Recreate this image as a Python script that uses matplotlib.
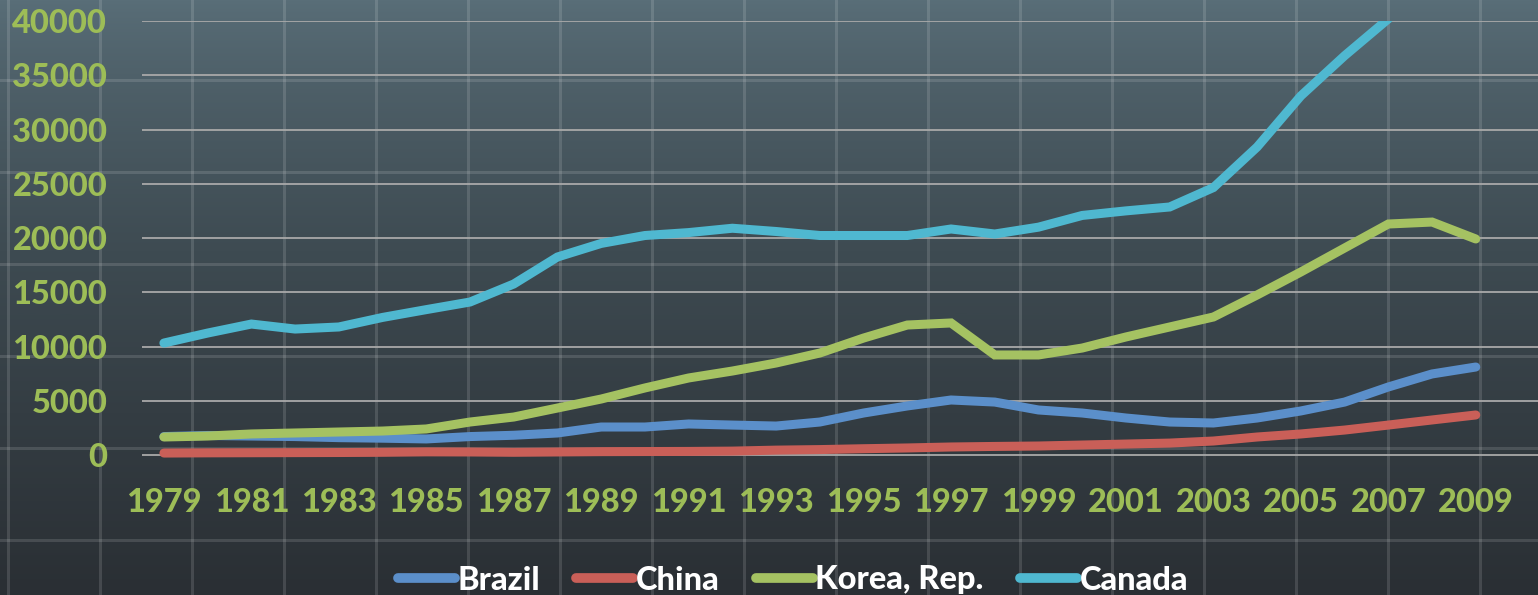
import numpy as np
import matplotlib
matplotlib.use("Agg")
import matplotlib.pyplot as plt
from matplotlib.colors import LinearSegmentedColormap

years = list(range(1979, 2010))
brazil = [1700, 1800, 1750, 1700, 1600, 1550, 1480, 1700, 1820, 2030, 2580,
          2580, 2860, 2760, 2670, 3040, 3870, 4520, 5070, 4880, 4150,
          3870, 3410, 3040, 2950, 3410, 4060, 4880, 6270, 7470, 8110]
china = [180, 200, 210, 220, 230, 250, 290, 280, 250, 280, 310,
         320, 330, 360, 450, 500, 580, 650, 740, 790, 830,
         920, 1010, 1100, 1290, 1660, 1940, 2300, 2760, 3230, 3690]
korea = [1660, 1750, 1940, 2030, 2120, 2210, 2400, 3040, 3500, 4330, 5160,
         6180, 7100, 7740, 8480, 9400, 10780, 11980, 12170, 9220, 9220,
         9860, 10880, 11800, 12720, 14750, 16870, 19080, 21290, 21470, 19910]
canada = [10320, 11240, 12070, 11610, 11800, 12680, 13400, 14100, 15760, 18250, 19500,
          20230, 20500, 20900, 20600, 20230, 20230, 20230, 20830, 20370, 21000,
          22080, 22500, 22860, 24650, 28390, 33100, 36800, 40200, 45000, 41000]

series = [
    ("Brazil", brazil, "#5b8fca"),
    ("China", china, "#c95f58"),
    ("Korea, Rep.", korea, "#a5c262"),
    ("Canada", canada, "#4fb8d0"),
]

W, H = 1538, 595
FONT = "Lato"
WEIGHT = 900
SIZE = 23.5
GREEN = "#9dbd57"

fig = plt.figure(figsize=(W / 100, H / 100), dpi=100)

# background: dark slate gradient with a faint chalkboard grid
bg = fig.add_axes([0, 0, 1, 1], zorder=-10)
grad = np.linspace(0, 1, 256).reshape(-1, 1) ** 0.8
cmap = LinearSegmentedColormap.from_list("bg", ["#596e78", "#3e4b52", "#2a2f34"])
bg.imshow(grad, aspect="auto", cmap=cmap, extent=[0, W, H, 0])
for gx in range(8, W, 92):
    bg.axvline(gx, color="white", alpha=0.13, lw=2.2)
for gy in range(-12, H, 92):
    bg.axhline(gy, color="white", alpha=0.13, lw=2.2)
bg.set_xlim(0, W)
bg.set_ylim(H, 0)
bg.axis("off")

# plot area in pixel terms
left, right = 142, W
top, bottom = 21, 460
ax = fig.add_axes([left / W, (H - bottom) / H, (right - left) / W, (bottom - top) / H])
ax.set_facecolor("none")

x = np.arange(len(years))
for name, vals, color in series:
    ax.plot(x, vals, color=color, lw=6.5, solid_capstyle="round",
            solid_joinstyle="miter", label=name)

spacing = 43.73
ax.set_xlim(-(163.9 - left) / spacing, -(163.9 - left) / spacing + (right - left) / spacing)
ax.set_ylim(-460, 40000)
ax.set_yticks(range(0, 40001, 5000))
ax.set_xticks(x[::2])
ax.set_xticklabels([str(y) for y in years[::2]])
ax.grid(axis="y", color="#a9a9a9", lw=1.3)
ax.set_axisbelow(True)
for s in ax.spines.values():
    s.set_visible(False)
ax.tick_params(axis="both", length=0, labelcolor=GREEN)
ax.tick_params(axis="y", pad=25)
ax.tick_params(axis="x", pad=20)
for lab in ax.get_xticklabels() + ax.get_yticklabels():
    lab.set_fontfamily(FONT)
    lab.set_fontweight(WEIGHT)
    lab.set_fontsize(SIZE)

leg = fig.legend(loc="center", bbox_to_anchor=(793 / W, 1 - 580 / H), ncol=4,
                 frameon=False, handlelength=1.75, handletextpad=0.08,
                 columnspacing=1.1,
                 prop={"family": FONT, "weight": WEIGHT, "size": SIZE})
for t in leg.get_texts():
    t.set_color("white")
for h in leg.legend_handles:
    h.set_linewidth(7)
    h.set_solid_capstyle("round")

fig.savefig("out.png", dpi=100)
